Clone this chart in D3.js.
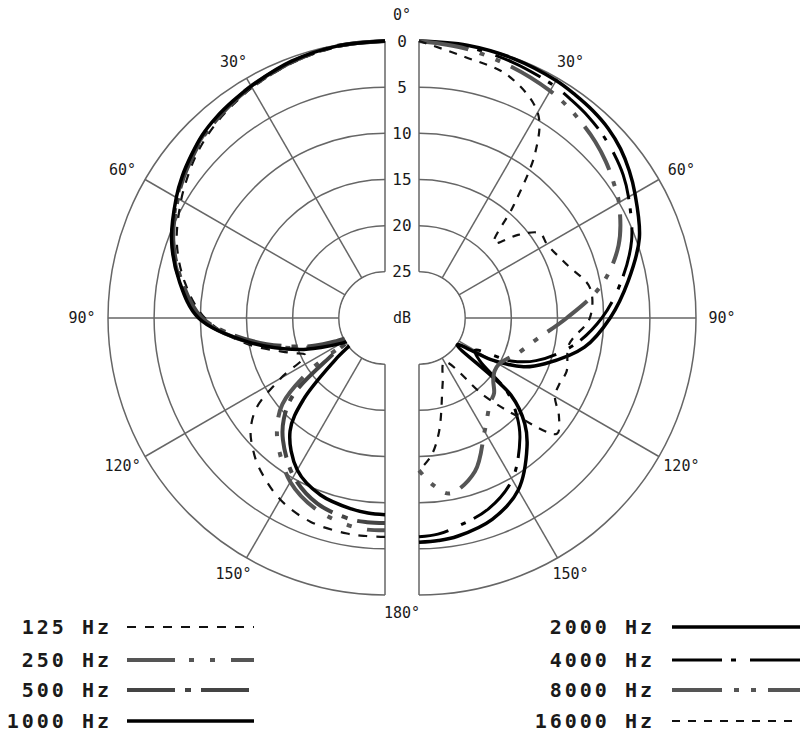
<!DOCTYPE html>
<html>
<head>
<meta charset="utf-8">
<script src="https://cdn.jsdelivr.net/npm/d3@7"></script>
<style>
  body { margin: 0; background: #fff; }
  text { font-family: "DejaVu Sans Mono", monospace; fill: #1a1a1a; }
</style>
</head>
<body>
<script>
// polar response, dB below on-axis
const angles = [0, 10, 20, 30, 35, 40, 45, 50, 55, 60, 70, 80, 90, 100, 110, 115, 120, 125, 130, 135, 140, 150, 160, 170, 175, 180];

// left half: low frequencies
const db125  = [0, 0.2, 0.6, 1.2, 1.6, 2.0, 2.5, 3.1, 3.8, 4.5, 6.0, 8.0, 10.5, 14.5, 19, 20.5, 17, 13, 11, 9.8, 8.8, 7.3, 6.5, 6.3, 6.3, 6.3];
const db250  = [0, 0.1, 0.5, 1.0, 1.4, 1.7, 2.1, 2.7, 3.3, 4.0, 5.5, 7.5, 10.0, 15, 20.5, 23.5, 25.5, 20, 15.5, 13.5, 12, 9.5, 8.0, 7.2, 7.0, 7.0];
const db500  = [0, 0.1, 0.5, 1.1, 1.4, 1.8, 2.2, 2.8, 3.4, 4.1, 5.6, 7.7, 10.2, 15.5, 21, 24, 26, 23, 17, 14.5, 12.8, 10.2, 8.6, 7.9, 7.8, 7.8];
const db1000 = [0, 0.1, 0.4, 1.0, 1.3, 1.6, 2.0, 2.6, 3.2, 3.9, 5.4, 7.4, 9.8, 15, 20, 22.5, 24.5, 26, 23, 17.5, 14, 11, 9.6, 9.0, 8.8, 8.7];

// right half: high frequencies
const db2000  = [0, 0, 0.1, 0.3, 0.5, 0.7, 1.0, 1.5, 2.2, 3.0, 4.6, 7.0, 9.3, 11.8, 15.5, 17.5, 21, 25, 17, 13.8, 11.8, 8.5, 6.8, 6.0, 5.8, 5.7];
const db4000  = [0, 0.2, 0.5, 0.9, 1.2, 1.5, 1.9, 2.4, 3.0, 3.8, 5.5, 7.8, 10.2, 13, 16.5, 19, 23, 22, 17.5, 15, 13, 9.8, 8.0, 7.0, 6.5, 6.3];
const db8000  = [0, 0.4, 1.0, 1.6, 2.0, 2.5, 3.0, 3.6, 4.3, 5.0, 7.0, 10, 14, 17, 18.7, 19.5, 20, 20, 19.5, 18.5, 18, 15.8, 12.3, 10.7, 11.8, 13.5];
const db16000 = [0, 1.3, 2.0, 4.3, 8, 14, 18.5, 16, 14, 14, 13, 11.2, 11.5, 13.5, 13, 13.2, 13, 11.5, 10.5, 15, 19, 24.5, 22.5, 17.5, 15, 13.5];

const leftLabels = ['125 Hz', '250 Hz', '500 Hz', '1000 Hz'];
const rightLabels = ['2000 Hz', '4000 Hz', '8000 Hz', '16000 Hz'];

const ringTicks = [0, 5, 10, 15, 20, 25];
const spokeAngles = [30, 60, 90, 120, 150];

const width = 800, height = 738;
const cx = 402, cy = 318, gap = 17, R = 277;
const gridColor = '#666';

const styles = {
  '125 Hz':   { color: '#111', w: 2.2, dash: '9,9' },
  '250 Hz':   { color: '#555', w: 4,   dash: '48,14,5,16,5,16' },
  '500 Hz':   { color: '#444', w: 4,   dash: '48,10,6,10' },
  '1000 Hz':  { color: '#000', w: 3.5, dash: null },
  '2000 Hz':  { color: '#000', w: 3.5, dash: null },
  '4000 Hz':  { color: '#000', w: 3,   dash: '50,9,5,14' },
  '8000 Hz':  { color: '#555', w: 4,   dash: '50,12,5,12,5,12' },
  '16000 Hz': { color: '#111', w: 2.2, dash: '8,8' }
};

const r = d3.scaleLinear().domain([0, 30]).range([R, 0]).clamp(true);

const svg = d3.select('body')
  .append('svg')
  .attr('width', width)
  .attr('height', height);

svg.append('rect')
  .attr('width', width)
  .attr('height', height)
  .attr('fill', 'white');

const halves = [
  { side: -1, x: cx - gap, series: [db125, db250, db500, db1000], labels: leftLabels },
  { side: 1, x: cx + gap, series: [db2000, db4000, db8000, db16000], labels: rightLabels }
];

halves.forEach(h => {
  const g = svg.append('g').attr('transform', `translate(${h.x},${cy})`);

  // half rings
  g.selectAll('path.ring')
    .data(ringTicks)
    .enter()
    .append('path')
    .attr('class', 'ring')
    .attr('d', d => {
      const p = d3.path();
      if (h.side > 0) {
        p.arc(0, 0, r(d), -Math.PI / 2, Math.PI / 2);
      } else {
        p.arc(0, 0, r(d), Math.PI / 2, Math.PI * 1.5);
      }
      return p.toString();
    })
    .attr('fill', 'none')
    .attr('stroke', gridColor)
    .attr('stroke-width', 1.5);

  // spokes
  g.selectAll('line.spoke')
    .data(spokeAngles)
    .enter()
    .append('line')
    .attr('x1', d => h.side * r(25) * Math.sin(d * Math.PI / 180))
    .attr('y1', d => -r(25) * Math.cos(d * Math.PI / 180))
    .attr('x2', d => h.side * r(0) * Math.sin(d * Math.PI / 180))
    .attr('y2', d => -r(0) * Math.cos(d * Math.PI / 180))
    .attr('stroke', gridColor)
    .attr('stroke-width', 1.5);

  // edge lines of the centre strip
  [[-r(0), -r(25)], [r(25), r(0)]].forEach(([a, b]) => {
    g.append('line')
      .attr('x1', 0).attr('x2', 0)
      .attr('y1', a).attr('y2', b)
      .attr('stroke', gridColor)
      .attr('stroke-width', 1.5);
  });

  // response curves
  const line = d3.lineRadial()
    .angle(d => h.side * d[0] * Math.PI / 180)
    .radius(d => r(d[1]))
    .curve(d3.curveCatmullRom);

  h.series.forEach((vals, i) => {
    const st = styles[h.labels[i]];
    g.append('path')
      .datum(angles.map((a, k) => [a, vals[k]]))
      .attr('d', line)
      .attr('fill', 'none')
      .attr('stroke', st.color)
      .attr('stroke-width', st.w)
      .attr('stroke-dasharray', st.dash);
  });

  // blank centre
  const p = d3.path();
  if (h.side > 0) {
    p.moveTo(0, -r(25) + 1);
    p.arc(0, 0, r(25) - 1, -Math.PI / 2, Math.PI / 2);
  } else {
    p.moveTo(0, r(25) - 1);
    p.arc(0, 0, r(25) - 1, Math.PI / 2, Math.PI * 1.5);
  }
  p.closePath();
  g.append('path').attr('d', p.toString()).attr('fill', 'white');

  // angle labels
  g.selectAll('text.ang')
    .data(spokeAngles)
    .enter()
    .append('text')
    .attr('x', d => h.side * 303 * Math.sin(d * Math.PI / 180))
    .attr('y', d => -296 * Math.cos(d * Math.PI / 180))
    .attr('text-anchor', 'middle')
    .attr('dominant-baseline', 'central')
    .attr('font-size', 15)
    .text(d => d + '°');
});

// dB scale in the strip
svg.selectAll('text.db')
  .data(ringTicks)
  .enter()
  .append('text')
  .attr('x', cx)
  .attr('y', d => cy - r(d))
  .attr('text-anchor', 'middle')
  .attr('dominant-baseline', 'central')
  .attr('font-size', 16)
  .text(d => d);

svg.append('text')
  .attr('x', cx).attr('y', cy)
  .attr('text-anchor', 'middle')
  .attr('dominant-baseline', 'central')
  .attr('font-size', 15)
  .text('dB');

svg.append('text')
  .attr('x', cx).attr('y', 15)
  .attr('text-anchor', 'middle')
  .attr('dominant-baseline', 'central')
  .attr('font-size', 15)
  .text('0°');

svg.append('text')
  .attr('x', cx).attr('y', 613)
  .attr('text-anchor', 'middle')
  .attr('dominant-baseline', 'central')
  .attr('font-size', 15)
  .text('180°');

// legend
const legendRows = [627, 660, 690, 721];
const legendCols = [
  { labels: leftLabels, textX: 112, x1: 127, x2: 254 },
  { labels: rightLabels, textX: 655, x1: 672, x2: 800 }
];

legendCols.forEach(col => {
  col.labels.forEach((lab, i) => {
    const st = styles[lab];
    svg.append('text')
      .attr('x', col.textX)
      .attr('y', legendRows[i])
      .attr('text-anchor', 'end')
      .attr('dominant-baseline', 'central')
      .attr('font-size', 20)
      .attr('font-weight', 'bold')
      .attr('letter-spacing', 3)
      .text(lab);
    svg.append('line')
      .attr('x1', col.x1).attr('x2', col.x2)
      .attr('y1', legendRows[i]).attr('y2', legendRows[i])
      .attr('stroke', st.color)
      .attr('stroke-width', st.w)
      .attr('stroke-dasharray', st.dash);
  });
});
</script>
</body>
</html>
